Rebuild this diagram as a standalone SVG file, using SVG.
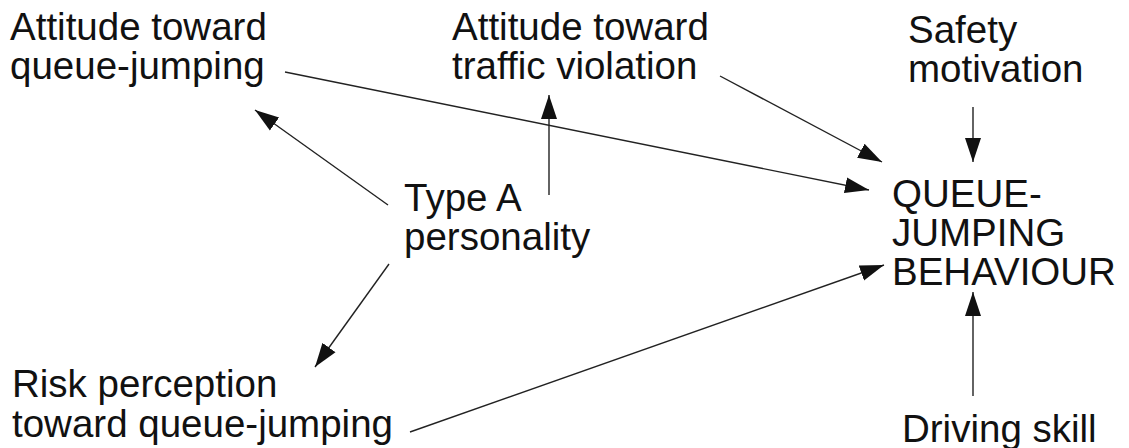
<svg xmlns="http://www.w3.org/2000/svg" width="1129" height="448" viewBox="0 0 1129 448">
<defs>
<style>
text{font-family:"Liberation Sans",Arial,sans-serif;font-size:38.5px;fill:#111}
.c{stroke:#222;stroke-width:1.4;fill:none;marker-end:url(#ah)}
</style>
<marker id="ah" markerUnits="userSpaceOnUse" markerWidth="26" markerHeight="18" refX="24" refY="9" orient="auto">
<path d="M0,1 L24,9 L0,17 Z" fill="#111"/>
</marker>
</defs>
<rect width="1129" height="448" fill="#fff"/>
<g id="att-qj"><text x="10" y="40">Attitude toward</text><text x="10" y="79">queue-jumping</text></g>
<g id="att-tv"><text x="452" y="40">Attitude toward</text><text x="452" y="79">traffic violation</text></g>
<g id="safety"><text x="908" y="43">Safety</text><text x="908" y="82">motivation</text></g>
<g id="typeA"><text x="404" y="211">Type A</text><text x="404" y="250">personality</text></g>
<g id="qjb"><text x="892" y="207">QUEUE-</text><text x="892" y="246">JUMPING</text><text x="892" y="285">BEHAVIOUR</text></g>
<g id="risk"><text x="12" y="397">Risk perception</text><text x="12" y="437">toward queue-jumping</text></g>
<g id="skill"><text x="902" y="442">Driving skill</text></g>
<g id="connectors">
<line class="c" x1="285" y1="72" x2="869" y2="190"/>
<line class="c" x1="720" y1="76" x2="882" y2="162"/>
<line class="c" x1="973" y1="107" x2="973" y2="162"/>
<line class="c" x1="388" y1="205" x2="255" y2="110"/>
<line class="c" x1="549" y1="195" x2="549" y2="95"/>
<line class="c" x1="389" y1="264" x2="315" y2="367"/>
<line class="c" x1="410" y1="432" x2="884" y2="265"/>
<line class="c" x1="973" y1="396" x2="973" y2="292"/>
</g>
</svg>
